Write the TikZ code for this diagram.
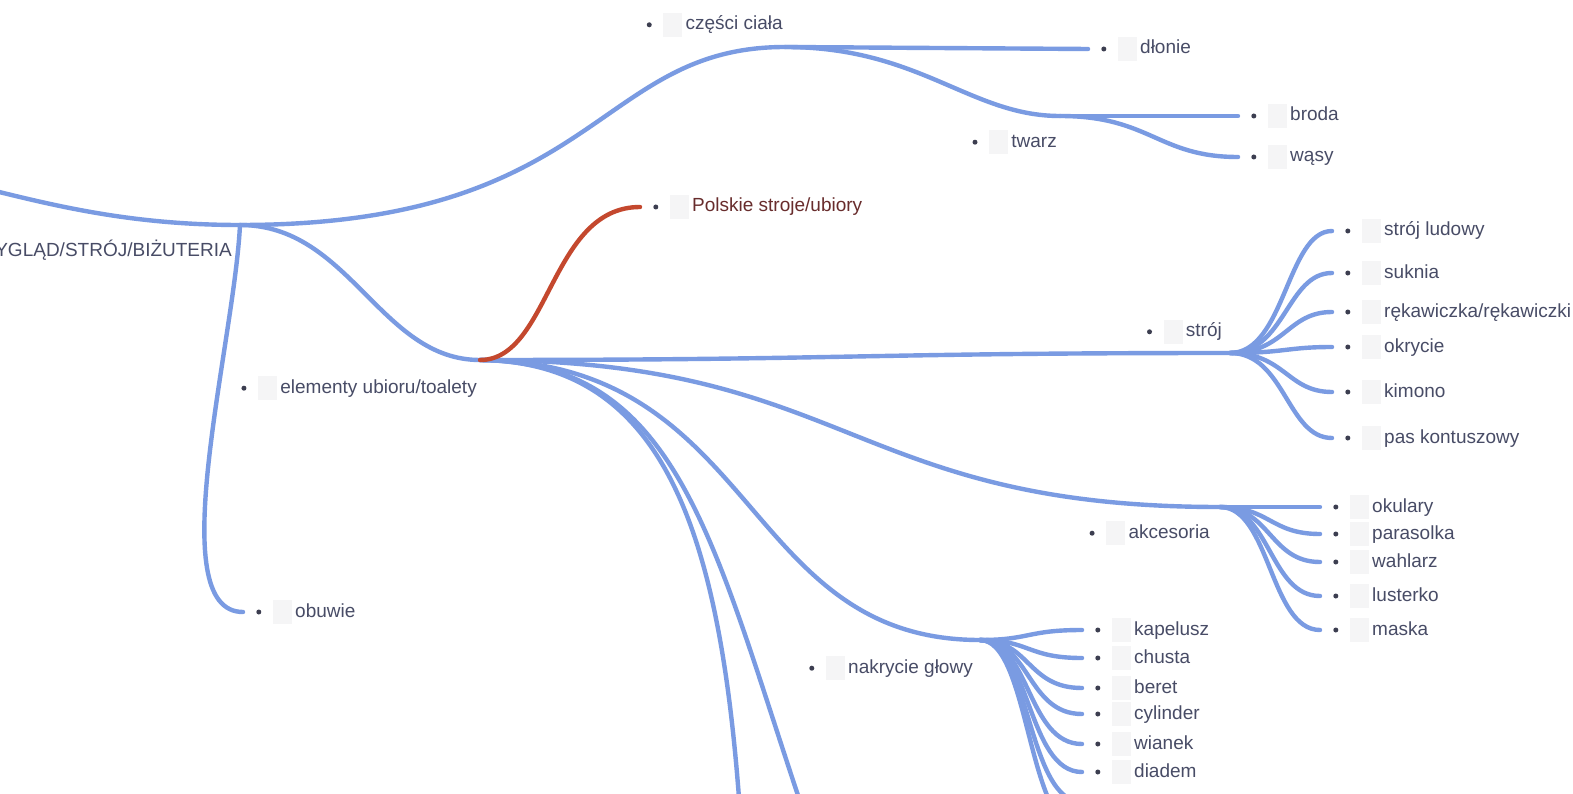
\documentclass[tikz,border=0pt]{standalone}
\usepackage{fontspec}
\setmainfont{Liberation Sans}
\usetikzlibrary{positioning}

\definecolor{linkblue}{RGB}{122,155,226}
\definecolor{linkred}{RGB}{196,72,46}
\definecolor{txtgrey}{RGB}{72,76,102}
\definecolor{txtred}{RGB}{104,44,44}
\definecolor{dotgrey}{RGB}{60,62,80}
\definecolor{boxgrey}{RGB}{245,245,246}

\tikzset{
  link/.style={draw=linkblue, line width=4.4pt, line cap=round},
  redlink/.style={link, draw=linkred},
  lbl/.style={font=\fontsize{19}{22}\selectfont, text=txtgrey, inner sep=0pt,
    text height=14pt, text depth=4pt},
  dot/.style={circle, fill=dotgrey, inner sep=0pt, minimum size=5pt},
  gbox/.style={fill=boxgrey, inner sep=0pt, minimum width=19pt, minimum height=24pt},
  item/.style={lbl, anchor=west,
    label={[gbox, xshift=-3pt]left:{}},
    label={[dot, xshift=-33.5pt]left:{}}},
}

\begin{document}
\begin{tikzpicture}[x=1pt, y=-1pt]
  \useasboundingbox[fill=white] (0,0) rectangle (1573,794);

  % hubs
  \coordinate (top) at (-200,160);
  \coordinate (wyglad) at (240,225);
  \coordinate (czesci) at (785,47);
  \coordinate (twarz) at (1060,116);
  \coordinate (elementy) at (480,360);
  \coordinate (stroj) at (1230,353);
  \coordinate (akcesoria) at (1220,507);
  \coordinate (nakrycie) at (980,640);

  % ends
  \coordinate (dlonie) at (1088,49);
  \coordinate (broda) at (1238,116);
  \coordinate (wasy) at (1238,157);
  \coordinate (obuwie) at (243,612);
  \coordinate (polskie) at (640,207);
  \coordinate (dolA) at (745,900);
  \coordinate (dolB) at (820,860);

  % main branches
  \draw[link] (top) .. controls +(150,0) and +(-200,0) .. (wyglad);
  \draw[link] (wyglad) .. controls +(360,0) and +(-190,0) .. (czesci);
  \draw[link] (czesci) -- (dlonie);
  \draw[link] (czesci) .. controls +(135,0) and +(-90,0) .. (twarz);
  \draw[link] (twarz) -- (broda);
  \draw[link] (twarz) .. controls +(90,0) and +(-80,0) .. (wasy);
  \draw[link] (wyglad) .. controls +(110,0) and +(-100,0) .. (elementy);
  \draw[link] (wyglad) .. controls +(-6,120) and +(-82,0) .. (obuwie);
  \draw[link] (elementy) .. controls +(370,0) and +(-370,0) .. (stroj);
  \draw[link] (elementy) .. controls +(370,0) and +(-370,0) .. (akcesoria);
  \draw[link] (elementy) .. controls +(280,2) and +(-240,0) .. (nakrycie);
  \draw[link] (elementy) .. controls +(200,2) and +(-15,-340) .. (dolA);
  \draw[link] (elementy) .. controls +(210,2) and +(-105,-300) .. (dolB);
  \draw[redlink] (elementy) .. controls +(70,0) and +(-90,0) .. (polskie);

  % strój
  \foreach \n/\y/\t in {ludowy/231/{strój ludowy}, suknia/273/suknia,
      rekawiczka/312/{rękawiczka/rękawiczki}, okrycie/347/okrycie,
      kimono/392/kimono, pas/438/{pas kontuszowy}} {
    \coordinate (s-\n) at (1332,\y);
    \draw[link] (stroj) .. controls +(55,0) and +(-45,0) .. (s-\n);
    \node[item, right=52pt of s-\n] (s-\n-txt) {\t};
  }

  % akcesoria
  \foreach \n/\y in {okulary/507, parasolka/534, wahlarz/562, lusterko/596, maska/630} {
    \coordinate (a-\n) at (1320,\y);
    \draw[link] (akcesoria) .. controls +(50,0) and +(-50,0) .. (a-\n);
    \node[item, right=52pt of a-\n] (a-\n-txt) {\n};
  }

  % nakrycie glowy
  \foreach \n/\y in {kapelusz/630, chusta/658, beret/688, cylinder/714, wianek/744, diadem/772} {
    \coordinate (n-\n) at (1082,\y);
    \draw[link] (nakrycie) .. controls +(50,0) and +(-55,0) .. (n-\n);
    \node[item, right=52pt of n-\n] (n-\n-txt) {\n};
  }
  \coordinate (n-x1) at (1082,802);
  \coordinate (n-x2) at (1082,832);
  \draw[link] (nakrycie) .. controls +(50,0) and +(-55,0) .. (n-x1);
  \draw[link] (nakrycie) .. controls +(50,0) and +(-55,0) .. (n-x2);

  % labels
  \node[lbl, below left=17pt and 8pt of wyglad] (wygladL) {WYGLĄD/STRÓJ/BIŻUTERIA};
  \node[item, above left=13pt and 2pt of czesci] (czesciL) {części ciała};
  \node[item, right=52pt of dlonie] (dlonieL) {dłonie};
  \node[item, below left=17pt and 3pt of twarz] (twarzL) {twarz};
  \node[item, right=52pt of broda] (brodaL) {broda};
  \node[item, right=52pt of wasy] (wasyL) {wąsy};
  \node[item, below left=19pt and 3pt of elementy] (elementyL) {elementy ubioru/toalety};
  \node[item, right=52pt of obuwie] (obuwieL) {obuwie};
  \node[item, text=txtred, right=52pt of polskie] (polskieL) {Polskie stroje/ubiory};
  \node[item, above left=12pt and 8pt of stroj] (strojL) {strój};
  \node[item, below left=17pt and 10pt of akcesoria] (akcesoriaL) {akcesoria};
  \node[item, below left=19pt and 7pt of nakrycie] (nakrycieL) {nakrycie głowy};
\end{tikzpicture}
\end{document}
